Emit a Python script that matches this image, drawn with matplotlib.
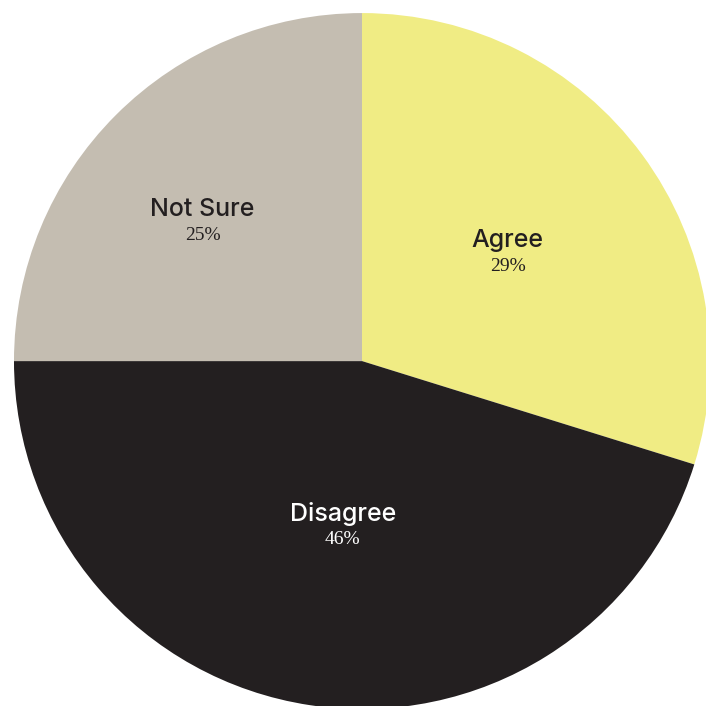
import numpy as np
import matplotlib
matplotlib.use("Agg")
import matplotlib.pyplot as plt

# slice data (clockwise from 12 o'clock)
categories = ["Agree", "Disagree", "Not Sure"]
shares = [29.8, 45.2, 25.0]
pct_labels = ["29%", "46%", "25%"]
colors = ["#F0EC84", "#231F20", "#C4BDB1"]
text_colors = ["#231F20", "#FFFFFF", "#231F20"]
label_r = [0.52, 0.48, 0.607]
label_shift = [0, 2, 4]  # degrees, nudges label off the slice bisector

fig = plt.figure(figsize=(7.06, 7.06), dpi=100)
ax = fig.add_axes([0, 0, 1, 1])

wedges, _ = ax.pie(shares, colors=colors, startangle=90, counterclock=False,
                   radius=1.0, wedgeprops=dict(linewidth=0))

for w, name, pct, tc, r, d in zip(wedges, categories, pct_labels, text_colors,
                                  label_r, label_shift):
    mid = np.deg2rad((w.theta1 + w.theta2) / 2 + d)
    x, y = r * np.cos(mid), r * np.sin(mid)
    ax.text(x, y + 0.037, name, ha="center", va="center", fontsize=18,
            family="Inter", fontweight="medium", color=tc)
    ax.text(x, y - 0.037, pct, ha="center", va="center", fontsize=14,
            family="Liberation Serif", color=tc)

# the original is cropped slightly on the right and bottom
ax.set_xlim(-1.0402, 0.9885)
ax.set_ylim(-0.991, 1.0374)
ax.set_aspect("equal")
ax.axis("off")

fig.savefig("out.png", dpi=100)
